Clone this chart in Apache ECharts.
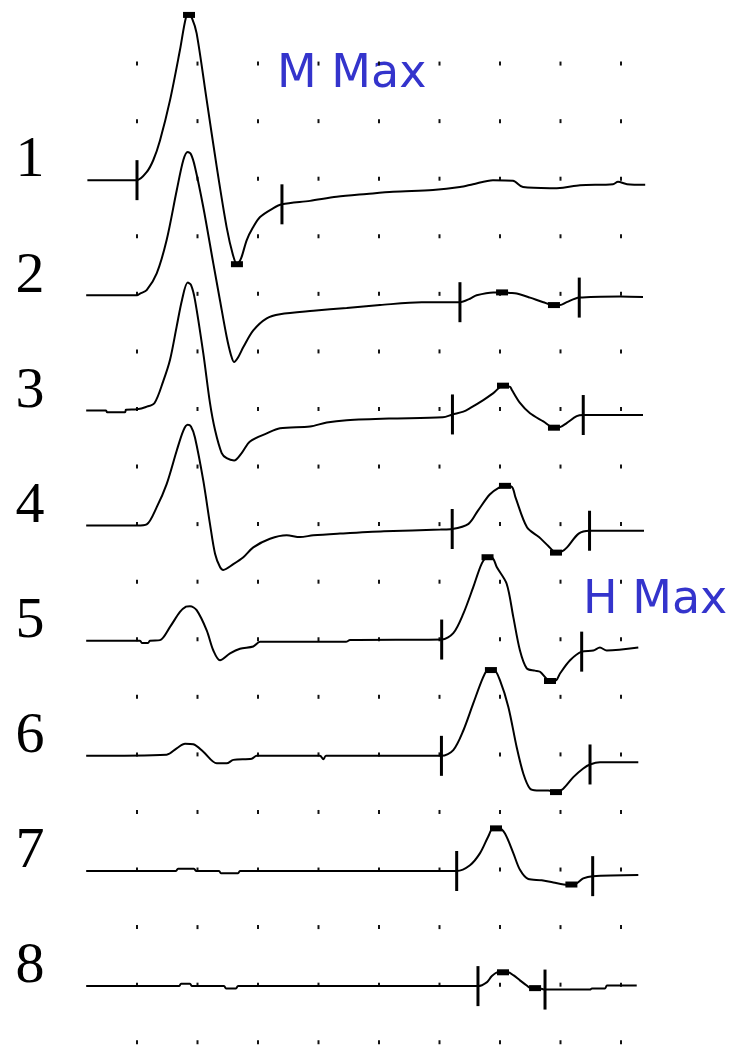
<!DOCTYPE html>
<html>
<head>
<meta charset="utf-8">
<title>M wave / H reflex recruitment</title>
<script src="https://cdn.jsdelivr.net/npm/echarts@6/dist/echarts.min.js"></script>
<style>
  html, body { margin: 0; padding: 0; background: #fff; }
  #chart { width: 731px; height: 1050px; }
</style>
</head>
<body>
<div id="chart"></div>
<script>
// x = time in ms (5 ms per dot column), y = amplitude in dot rows
var gridCols = [0, 5, 10, 15, 20, 25, 30, 35, 40];
var gridRows = [0, 1, 2, 3, 4, 5, 6, 7, 8, 9, 10, 11, 12, 13, 14, 15, 16, 17];

var traceNames = ['1', '2', '3', '4', '5', '6', '7', '8'];
var baselines = [15, 13, 11, 9, 7, 5, 3, 1];
var baseShift = -0.025; // traces sit a hair under the dot row

// [ms, amplitude above own baseline]
var trace1 = [[-4.1,0],[0,0],[0.8,0.14],[1.35,0.35],[1.9,0.69],[2.73,1.39],[3.55,2.26],[4.05,2.83],[4.3,2.87],[4.55,2.81],[4.93,2.55],[5.76,1.39],[6.59,0.23],[7.41,-0.82],[7.93,-1.3],[8.26,-1.46],[8.6,-1.36],[9.07,-1.04],[9.59,-0.82],[10.17,-0.64],[11.24,-0.49],[11.98,-0.42],[14.3,-0.36],[16.5,-0.29],[18.98,-0.24],[21.16,-0.2],[24.46,-0.17],[26.69,-0.12],[27.77,-0.07],[29.42,0],[31.07,-0.01],[31.9,-0.12],[34.13,-0.14],[35.21,-0.13],[36.61,-0.09],[39.34,-0.07],[39.75,-0.03],[40.5,-0.07],[42,-0.08]];
var trace2 = [[-4.2,0],[0,0],[0.25,0.03],[0.8,0.09],[1.63,0.38],[2.45,0.96],[3.28,1.82],[3.83,2.35],[4.19,2.49],[4.46,2.45],[4.79,2.23],[5.48,1.53],[6.31,0.55],[6.86,-0.09],[7.41,-0.72],[7.77,-1.04],[8.02,-1.16],[8.35,-1.08],[8.79,-0.9],[9.61,-0.61],[10.72,-0.4],[11.82,-0.33],[14.57,-0.27],[17.33,-0.22],[20.08,-0.17],[23.53,-0.12],[26.69,-0.12],[27.52,-0.06],[28.07,0],[29.45,0.05],[30.17,0.05],[30.83,0.04],[31.38,0.03],[32.48,-0.04],[33.58,-0.12],[34.46,-0.17],[34.96,-0.17],[35.51,-0.12],[36.55,-0.04],[39.92,-0.02],[41.82,-0.03]];
var trace3 = [[-4.2,0],[-2.56,0],[-2.48,-0.03],[-0.99,-0.03],[-0.91,0.01],[0,0.02],[0.74,0.06],[1.45,0.13],[2.17,0.51],[2.73,0.88],[3.28,1.46],[3.72,1.92],[4.19,2.22],[4.46,2.18],[4.79,1.92],[5.48,0.99],[6.03,0.13],[6.45,-0.34],[7.0,-0.74],[7.41,-0.83],[8.02,-0.87],[8.65,-0.74],[9.34,-0.54],[10.72,-0.4],[11.82,-0.31],[14.3,-0.28],[15.68,-0.21],[17.33,-0.17],[20.83,-0.14],[25.27,-0.12],[26.07,-0.07],[26.97,-0.02],[27.52,0.04],[28.62,0.18],[29.45,0.3],[30.25,0.43],[30.83,0.41],[30.97,0.36],[31.65,0.13],[32.48,-0.05],[33.58,-0.19],[34.46,-0.3],[34.96,-0.29],[35.51,-0.22],[36.34,-0.1],[36.88,-0.08],[41.82,-0.08]];
var trace4 = [[-4.2,0],[0,0],[0.8,0.02],[1.63,0.32],[2.45,0.72],[3.28,1.3],[3.83,1.65],[4.19,1.75],[4.46,1.72],[4.79,1.53],[5.48,0.78],[6.03,0.03],[6.45,-0.49],[6.86,-0.72],[7.13,-0.77],[7.96,-0.67],[8.79,-0.55],[9.61,-0.38],[10.99,-0.23],[12.37,-0.17],[13.47,-0.2],[14.57,-0.17],[16.78,-0.14],[20.41,-0.1],[25.08,-0.07],[26.05,-0.06],[27.4,0.03],[28.18,0.26],[29.15,0.54],[29.92,0.66],[30.41,0.69],[30.99,0.67],[31.28,0.49],[32.23,-0.03],[33.22,-0.2],[33.97,-0.35],[34.63,-0.47],[35.12,-0.45],[35.54,-0.38],[36.5,-0.14],[37.4,-0.09],[41.9,-0.09]];
var trace5 = [[-4.2,0],[0.25,0],[0.41,-0.04],[0.91,-0.04],[1.07,0],[1.9,0.01],[2.73,0.24],[3.55,0.5],[4.05,0.59],[4.38,0.6],[4.93,0.53],[5.76,0.18],[6.31,-0.17],[6.86,-0.34],[7.69,-0.22],[8.51,-0.14],[9.61,-0.1],[10.17,-0.02],[17.27,-0.02],[17.6,0.01],[25.18,0.02],[26.14,0.13],[26.97,0.47],[27.79,0.93],[28.49,1.34],[28.97,1.45],[29.42,1.43],[29.73,1.28],[30.55,0.99],[31.1,0.41],[31.65,-0.17],[32.21,-0.48],[32.89,-0.52],[33.31,-0.54],[34.13,-0.7],[34.63,-0.69],[34.96,-0.57],[35.79,-0.34],[36.75,-0.19],[37.71,-0.17],[38.26,-0.12],[38.82,-0.17],[41.43,-0.12]];
var trace6 = [[-4.2,0],[2.45,0.02],[3.28,0.13],[3.97,0.21],[4.65,0.2],[5.48,0.07],[6.59,-0.13],[7.41,-0.13],[7.96,-0.07],[9.48,-0.05],[9.89,0],[15.12,0],[15.4,-0.06],[15.62,0],[25.16,0],[26.14,0.1],[26.97,0.44],[27.79,0.91],[28.62,1.37],[29.01,1.49],[29.5,1.49],[30.0,1.31],[30.69,0.85],[31.38,0.15],[31.93,-0.31],[32.48,-0.57],[33.03,-0.6],[33.99,-0.6],[34.63,-0.63],[35.23,-0.57],[36.06,-0.37],[36.88,-0.22],[37.44,-0.15],[38.26,-0.11],[41.43,-0.11]];
var trace7 = [[-4.2,0],[3.22,0],[3.39,0.04],[4.71,0.04],[4.88,0],[6.78,0],[6.94,-0.04],[8.35,-0.04],[8.51,0],[26.42,0],[27.52,0.1],[28.35,0.31],[29.03,0.6],[29.42,0.74],[29.92,0.74],[30.41,0.65],[31.1,0.31],[31.65,0.02],[32.34,-0.14],[33.45,-0.16],[34.41,-0.2],[35.62,-0.24],[36.2,-0.23],[36.88,-0.13],[37.66,-0.09],[41.43,-0.07]];
var trace8 = [[-4.2,0],[3.47,0],[3.64,0.04],[4.38,0.04],[4.55,0],[7.19,0],[7.36,-0.04],[8.18,-0.04],[8.35,0],[28.18,0],[28.93,0.07],[29.31,0.17],[29.83,0.24],[30.66,0.24],[31.1,0.19],[31.65,0.1],[32.21,0.01],[32.48,-0.03],[33.31,-0.04],[33.72,-0.06],[37.44,-0.06],[37.6,-0.04],[38.68,-0.04],[38.84,0.01],[41.3,0.01]];
var traces = [trace1, trace2, trace3, trace4, trace5, trace6, trace7, trace8];

// cursor ticks (start / end of the measured wave), ms
var cursorTimes = [[0, 11.98], [26.69, 36.55], [26.07, 36.88], [26.05, 37.4], [25.18, 36.75], [25.16, 37.44], [26.42, 37.66], [28.18, 33.72]];
// square markers on the positive and negative peaks, ms
var peakTimes = [4.3, 30.17, 30.25, 30.41, 28.97, 29.25, 29.67, 30.25];
var troughTimes = [8.26, 34.46, 34.46, 34.63, 34.13, 34.63, 35.9, 32.9];

var chart = echarts.init(document.getElementById('chart'), null, { renderer: 'canvas' });

// linear lookup of a trace value at time t
function valueAt(trace, t) {
  for (var i = 0; i < trace.length - 1; i++) {
    var a = trace[i], b = trace[i + 1];
    if (t >= a[0] && t <= b[0]) {
      var k = b[0] === a[0] ? 0 : (t - a[0]) / (b[0] - a[0]);
      return a[1] + k * (b[1] - a[1]);
    }
  }
  return trace[trace.length - 1][1];
}

var dots = [];
gridCols.forEach(function (c) {
  gridRows.forEach(function (r) { dots.push([c, r]); });
});

var series = [{
  type: 'scatter',
  silent: true,
  symbol: 'rect',
  symbolSize: [2, 4],
  itemStyle: { color: '#111', opacity: 1 },
  data: dots,
  z: 1
}];

var tickData = [], squareData = [], labelData = [];
traces.forEach(function (tr, i) {
  var base = baselines[i] + baseShift;
  series.push({
    type: 'line',
    name: traceNames[i],
    symbol: 'none',
    silent: true,
    smooth: 0.3,
    lineStyle: { color: '#000', width: 2 },
    data: tr.map(function (p) { return [p[0], base + p[1]]; }),
    z: 2
  });
  cursorTimes[i].forEach(function (t) {
    tickData.push([t, base + valueAt(tr, t)]);
  });
  squareData.push([peakTimes[i], base + valueAt(tr, peakTimes[i])]);
  squareData.push([troughTimes[i], base + valueAt(tr, troughTimes[i])]);
  labelData.push({ value: [-5, base], name: traceNames[i] });
});

series.push({
  type: 'scatter',
  silent: true,
  symbol: 'rect',
  symbolSize: [3, 40],
  itemStyle: { color: '#000', opacity: 1 },
  data: tickData,
  z: 3
});
series.push({
  type: 'scatter',
  silent: true,
  symbol: 'rect',
  symbolSize: [12, 6],
  itemStyle: { color: '#000', opacity: 1 },
  data: squareData,
  z: 3
});
// trace numbers on the left
series.push({
  type: 'scatter',
  silent: true,
  symbolSize: 0,
  clip: false,
  data: labelData,
  itemStyle: { opacity: 1 },
  label: {
    show: true,
    position: 'left',
    distance: 32,
    offset: [0, -19],
    formatter: '{b}',
    fontFamily: 'Liberation Serif',
    fontSize: 58,
    color: '#000'
  },
  z: 4
});

var option = {
  backgroundColor: '#ffffff',
  animation: false,
  grid: { left: 76.5, width: 605, top: 6, height: 1042 },
  xAxis: { type: 'value', min: -5, max: 45, show: false },
  yAxis: { type: 'value', min: -0.1, max: 18, show: false },
  graphic: [{
    type: 'text',
    left: 277,
    top: 52,
    style: { text: 'M Max', font: '46px "DejaVu Sans"', fill: '#3434cc' }
  }, {
    type: 'text',
    left: 583,
    top: 578,
    style: { text: 'H Max', font: '46px "DejaVu Sans"', fill: '#3434cc' }
  }],
  series: series
};

chart.setOption(option);
</script>
</body>
</html>
